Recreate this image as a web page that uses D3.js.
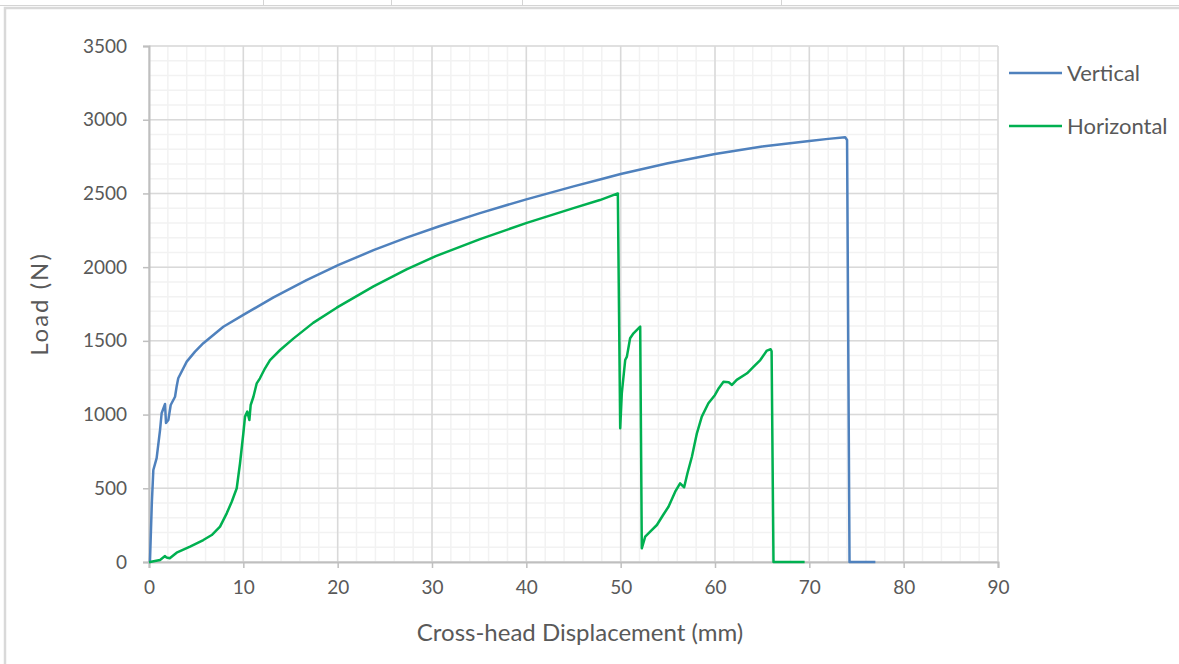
<!DOCTYPE html>
<html>
<head>
<meta charset="utf-8">
<script src="https://cdn.jsdelivr.net/npm/d3@7"></script>
<style>
    body { margin: 0; background: #fff; }
    svg text { font-family: Lato, "Open Sans", sans-serif; fill: #595959; }
</style>
</head>
<body>
<div id="chart"></div>
<script>
// Load vs displacement
const verticalDisp = [0, 0.1, 0.3, 0.46, 0.81, 1.17, 1.34, 1.7, 1.8, 2.05, 2.3, 2.76, 2.93, 3.1, 4.0, 4.88, 5.76, 7.88, 10.0, 13.2, 16.7, 20.1, 23.8, 27.3, 30.7, 35, 40, 45, 47.8, 50, 55, 60, 65, 70, 72, 73.8, 74.0, 74.26, 77.0];
const verticalLoad = [0, 0, 400, 624, 705, 895, 1009, 1072, 943, 963, 1065, 1121, 1190, 1246, 1359, 1427, 1484, 1596, 1676, 1795, 1912, 2015, 2115, 2200, 2276, 2365, 2460, 2548, 2594, 2632, 2705, 2768, 2818, 2856, 2870, 2881, 2863, 0, 0];

const horizontalDisp = [0, 0.1, 1.17, 1.7, 1.87, 2.2, 2.93, 4.35, 5.76, 6.65, 7.53, 8.24, 8.77, 9.3, 9.65, 10.0, 10.18, 10.42, 10.64, 10.78, 11.07, 11.42, 11.76, 12.3, 12.83, 13.9, 15.3, 17.4, 19.9, 23.8, 27.3, 30.4, 35.1, 40.05, 45, 47.8, 49.7, 49.95, 50.12, 50.48, 50.66, 51.0, 51.36, 52.07, 52.24, 52.6, 53.13, 53.84, 54.5, 55.07, 55.78, 56.3, 56.73, 57.08, 57.55, 58.08, 58.6, 59.3, 60.0, 60.4, 60.9, 61.45, 61.8, 62.3, 63.4, 64.1, 64.8, 65.5, 65.9, 66.0, 66.2, 69.5];
const horizontalLoad = [0, 0, 14, 40, 30, 25, 63, 104, 149, 183, 240, 330, 409, 500, 670, 873, 986, 1020, 963, 1065, 1121, 1212, 1246, 1314, 1370, 1438, 1515, 1622, 1725, 1870, 1985, 2075, 2190, 2300, 2400, 2455, 2500, 907, 1144, 1370, 1393, 1518, 1551, 1597, 93, 172, 206, 251, 319, 375, 477, 534, 507, 602, 714, 873, 986, 1077, 1133, 1179, 1223, 1219, 1201, 1235, 1280, 1325, 1370, 1434, 1443, 1430, 0, 0];

const xTicks = [0, 10, 20, 30, 40, 50, 60, 70, 80, 90];
const yTicks = [0, 500, 1000, 1500, 2000, 2500, 3000, 3500];
const seriesNames = ['Vertical', 'Horizontal'];
const seriesColors = ['#4f81bd', '#00b050'];

const width = 1179, height = 664;
const margin = { left: 149, right: 181, top: 46, bottom: 102 };

const svg = d3.select('#chart')
    .append('svg')
    .attr('width', width)
    .attr('height', height);

// spreadsheet cells behind the chart
svg.append('line')
    .attr('x1', 0).attr('x2', width).attr('y1', 5.5).attr('y2', 5.5)
    .attr('stroke', '#d4d4d4');
[263, 391, 522, 781].forEach(cx => {
    svg.append('line')
        .attr('x1', cx + 0.5).attr('x2', cx + 0.5).attr('y1', 0).attr('y2', 5)
        .attr('stroke', '#d4d4d4');
});
svg.append('rect')
    .attr('x', 5).attr('y', 8).attr('width', width).attr('height', height)
    .attr('fill', '#fff')
    .attr('stroke', '#d9d9d9').attr('stroke-width', 2.5);

const x = d3.scaleLinear().domain([0, 90]).range([margin.left, width - margin.right]);
const y = d3.scaleLinear().domain([0, 3500]).range([height - margin.bottom, margin.top]);

// minor grid
const grid = svg.append('g').attr('class', 'grid');
grid.selectAll('.minor-x')
    .data(d3.range(0, 91, 2))
    .enter().append('line')
    .attr('x1', d => x(d)).attr('x2', d => x(d))
    .attr('y1', y(0)).attr('y2', y(3500))
    .attr('stroke', '#f2f2f2').attr('stroke-width', 1.5);
grid.selectAll('.minor-y')
    .data(d3.range(0, 3501, 100))
    .enter().append('line')
    .attr('x1', x(0)).attr('x2', x(90))
    .attr('y1', d => y(d)).attr('y2', d => y(d))
    .attr('stroke', '#f2f2f2').attr('stroke-width', 1.5);

// major grid
grid.selectAll('.major-x')
    .data(xTicks)
    .enter().append('line')
    .attr('x1', d => x(d)).attr('x2', d => x(d))
    .attr('y1', y(0)).attr('y2', y(3500))
    .attr('stroke', '#d9d9d9').attr('stroke-width', 1.5);
grid.selectAll('.major-y')
    .data(yTicks)
    .enter().append('line')
    .attr('x1', x(0)).attr('x2', x(90))
    .attr('y1', d => y(d)).attr('y2', d => y(d))
    .attr('stroke', '#d9d9d9').attr('stroke-width', 1.5);

// axes
const xAxis = svg.append('g')
    .attr('transform', `translate(0,${y(0)})`)
    .call(d3.axisBottom(x).tickValues(xTicks).tickFormat(d3.format('d')).tickSize(6).tickPadding(13));
const yAxis = svg.append('g')
    .attr('transform', `translate(${x(0)},0)`)
    .call(d3.axisLeft(y).tickValues(yTicks).tickFormat(d3.format('d')).tickSize(6).tickPadding(16));
[xAxis, yAxis].forEach(a => {
    a.select('.domain').attr('stroke', '#bfbfbf').attr('stroke-width', 2);
    a.selectAll('.tick line').attr('stroke', '#bfbfbf').attr('stroke-width', 1.5);
    a.selectAll('.tick text').style('font-size', '19px').attr('fill', '#595959');
});

// series
const line = d3.line().x(d => x(d[0])).y(d => y(d[1]));
const series = [
    d3.zip(verticalDisp, verticalLoad),
    d3.zip(horizontalDisp, horizontalLoad)
];
series.forEach((pts, i) => {
    svg.append('path')
        .datum(pts)
        .attr('d', line)
        .attr('fill', 'none')
        .attr('stroke', seriesColors[i])
        .attr('stroke-width', 2.5)
        .attr('stroke-linejoin', 'round');
});

// legend
seriesNames.forEach((name, i) => {
    const ly = 73 + i * 53;
    svg.append('line')
        .attr('x1', 1009).attr('x2', 1062)
        .attr('y1', ly).attr('y2', ly)
        .attr('stroke', seriesColors[i]).attr('stroke-width', 2.5);
    svg.append('text')
        .attr('x', 1067).attr('y', ly)
        .attr('dy', '0.35em')
        .style('font-size', '22px')
        .text(name);
});

// axis titles
svg.append('text')
    .attr('x', 580).attr('y', 641)
    .attr('text-anchor', 'middle')
    .style('font-size', '24px')
    .text('Cross-head Displacement (mm)');
svg.append('text')
    .attr('transform', `translate(48,${(y(0) + y(3500)) / 2}) rotate(-90)`)
    .attr('text-anchor', 'middle')
    .style('font-size', '24px')
    .style('letter-spacing', '2px')
    .text('Load (N)');
</script>
</body>
</html>
